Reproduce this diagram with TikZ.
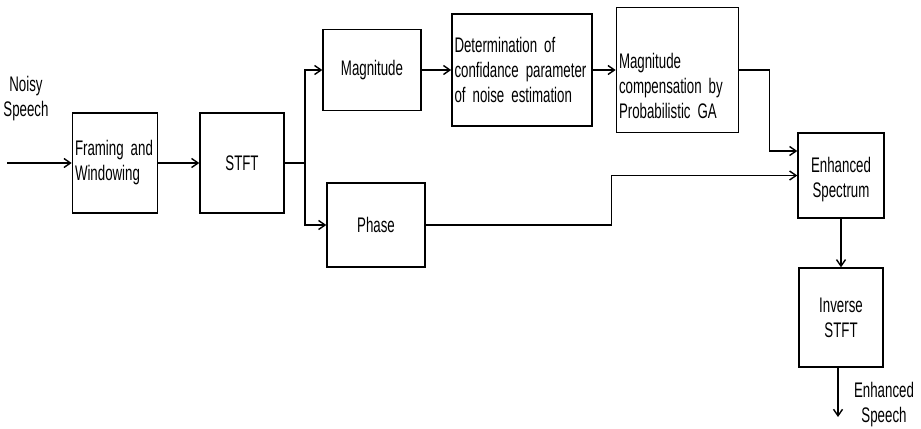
\documentclass[tikz,border=0pt]{standalone}
\usepackage{fontspec}
\setmainfont{Liberation Sans}[FakeStretch=0.63]
\usetikzlibrary{positioning,arrows.meta,calc}
\protected\def\boxfont{\fontsize{12}{14.2}\selectfont\spaceskip=0.17em plus 0.04em\relax}

\begin{document}
\begin{tikzpicture}[
  box/.style={draw, line width=0.8pt, rectangle, align=center, inner sep=1.5pt,
              font=\boxfont},
  ar/.style={-{Straight Barb[length=1.3mm,width=1.8mm]}, line width=0.8pt},
  lab/.style={font=\boxfont, align=center, inner sep=1pt},
]
\useasboundingbox (0,0) rectangle (18.42,-8.56);
\node[box, minimum width=1.68cm, minimum height=2cm, align=left, text width=1.6cm] (fw) at (2.30,-3.26) {Framing and\\Windowing};
\node[box, minimum width=1.68cm, minimum height=2cm] (stft) at (4.84,-3.26) {STFT};
\node[box, minimum width=1.96cm, minimum height=1.62cm] (mag) at (7.44,-1.40) {Magnitude};
\node[box, minimum width=2.8cm, minimum height=2.24cm, align=left, text width=2.7cm] (det) at (10.44,-1.40) {Determination of\\confidance parameter\\of noise estimation};
\node[box, minimum width=2.42cm, minimum height=2.5cm, align=left, text width=2.34cm] (comp) at (13.55,-1.40) {\rule{0pt}{0.95cm}Magnitude\\compensation by\\Probabilistic GA};
\node[box, minimum width=1.96cm, minimum height=1.68cm] (phs) at (7.52,-4.50) {Phase};
\node[box, minimum width=1.72cm, minimum height=1.7cm] (enh) at (16.82,-3.51) {\rule{0pt}{0.45cm}Enhanced\\Spectrum};
\node[box, minimum width=1.68cm, minimum height=1.98cm] (istft) at (16.82,-6.35) {Inverse\\STFT};
\coordinate (in) at (0.14,-3.26);
\coordinate (br) at (6.10,-3.26);
\coordinate (out) at (16.76,-8.34);
\node[lab] (nsp) at (0.52,-1.98) {Noisy\\Speech};
\node[lab] (esp) at (17.68,-8.10) {Enhanced\\Speech};
\draw[ar] (in) -- (fw);
\draw[ar] (fw) -- (stft);
\draw[line width=0.8pt] (stft.east) -- (br);
\draw[ar] (br) |- (mag.west);
\draw[ar] (br) |- (phs.west);
\draw[ar] (mag) -- (det);
\draw[ar] (det) -- (comp);
\draw[ar] (comp.east) -- ++(0.6,0) |- ([yshift=0.49cm]enh.west);
\draw[ar] (phs.east) -- ++(3.72,0) |- (enh.west);
\draw[ar] (enh) -- (istft);
\draw[ar] (istft.south -| out) -- (out);
\end{tikzpicture}
\end{document}
